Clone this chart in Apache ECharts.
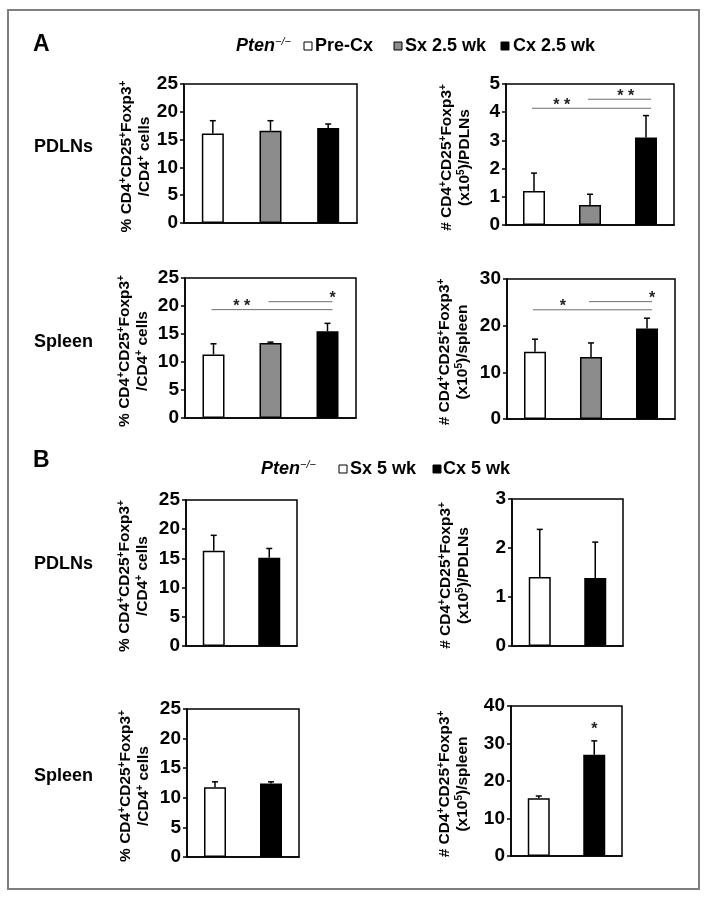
<!DOCTYPE html>
<html><head><meta charset="utf-8">
<script src="https://cdn.jsdelivr.net/npm/echarts@6/dist/echarts.min.js"></script>
<style>html,body{margin:0;padding:0;background:#fff}#c{width:710px;height:900px}</style>
</head><body><div id="c"></div>
<script>
// ---------- data ----------
const groupsA = ['Pre-Cx', 'Sx 2.5 wk', 'Cx 2.5 wk'];
const groupsB = ['Sx 5 wk', 'Cx 5 wk'];
const colorsA = ['#ffffff', '#8c8c8c', '#000000'];
const colorsB = ['#ffffff', '#000000'];
const genotype = 'Pten';
const genotypeSup = '−/−';
const rowLabels = ['PDLNs', 'Spleen', 'PDLNs', 'Spleen'];
const panelLetters = ['A', 'B'];

const aPdlnPct = [16.1, 16.6, 17.1];
const aPdlnPctErr = [2.3, 1.8, 0.7];
const aPdlnNum = [1.21, 0.71, 3.1];
const aPdlnNumErr = [0.63, 0.38, 0.78];
const aSplPct = [11.35, 13.4, 15.5];
const aSplPctErr = [1.9, 0.15, 1.4];
const aSplNum = [14.4, 13.3, 19.4];
const aSplNumErr = [2.7, 3.0, 2.2];
const bPdlnPct = [16.3, 15.1];
const bPdlnPctErr = [2.65, 1.6];
const bPdlnNum = [1.41, 1.39];
const bPdlnNumErr = [0.97, 0.73];
const bSplPct = [11.8, 12.4];
const bSplPctErr = [0.9, 0.3];
const bSplNum = [15.4, 27.0];
const bSplNumErr = [0.6, 3.7];

// significance annotations: from, to (category index), y value, text, label position fraction
const aPdlnNumSig = [{from:0, to:2, y:4.14, text:'* *', t:0.25}, {from:1, to:2, y:4.46, text:'* *', t:0.6}];
const aSplPctSig = [{from:0, to:2, y:19.35, text:'* *', t:0.25}, {from:1, to:2, y:20.77, text:'*', t:1}];
const aSplNumSig = [{from:0, to:2, y:23.4, text:'*', t:0.25}, {from:1, to:2, y:25.15, text:'*', t:1}];
const bSplNumSig = [{from:1, to:1, y:32.8, text:'*', t:0}];

const pctTitle = '{a|% CD4}{s|+}{a|CD25}{s|+}{a|Foxp3}{s|+}\n{a|/CD4}{s|+}{a| cells}';
const numPdlnTitle = '{a|# CD4}{s|+}{a|CD25}{s|+}{a|Foxp3}{s|+}\n{a|(x10}{s|5}{a|)/PDLNs}';
const numSplTitle = '{a|# CD4}{s|+}{a|CD25}{s|+}{a|Foxp3}{s|+}\n{a|(x10}{s|5}{a|)/spleen}';

// ---------- layout ----------
const FONT = '"Liberation Sans", Arial, Helvetica, sans-serif';
const panels = [
  {grid:{left:184, top:84, width:173, height:139}, cats:groupsA, colors:colorsA, vals:aPdlnPct, errs:aPdlnPctErr, max:25, interval:5, title:pctTitle, titleX:136, sig:[]},
  {grid:{left:506, top:84, width:168, height:141}, cats:groupsA, colors:colorsA, vals:aPdlnNum, errs:aPdlnNumErr, max:5, interval:1, title:numPdlnTitle, titleX:456, sig:aPdlnNumSig},
  {grid:{left:185, top:278, width:171, height:140}, cats:groupsA, colors:colorsA, vals:aSplPct, errs:aSplPctErr, max:25, interval:5, title:pctTitle, titleX:134, sig:aSplPctSig},
  {grid:{left:507, top:279, width:168, height:140}, cats:groupsA, colors:colorsA, vals:aSplNum, errs:aSplNumErr, max:30, interval:10, title:numSplTitle, titleX:454, sig:aSplNumSig},
  {grid:{left:186, top:500, width:111, height:146}, cats:groupsB, colors:colorsB, vals:bPdlnPct, errs:bPdlnPctErr, max:25, interval:5, title:pctTitle, titleX:134, sig:[]},
  {grid:{left:512, top:499, width:111, height:147}, cats:groupsB, colors:colorsB, vals:bPdlnNum, errs:bPdlnNumErr, max:3, interval:1, title:numPdlnTitle, titleX:455, sig:[]},
  {grid:{left:187, top:709, width:112, height:148}, cats:groupsB, colors:colorsB, vals:bSplPct, errs:bSplPctErr, max:25, interval:5, title:pctTitle, titleX:135, sig:[]},
  {grid:{left:511, top:706, width:111, height:150}, cats:groupsB, colors:colorsB, vals:bSplNum, errs:bSplNumErr, max:40, interval:10, title:numSplTitle, titleX:454, sig:bSplNumSig}
];

const grids = [], xAxes = [], yAxes = [], series = [], graphics = [];

panels.forEach((p, i) => {
  grids.push(Object.assign({show:true, borderColor:'#000', borderWidth:1.5, backgroundColor:'transparent'}, p.grid));
  xAxes.push({type:'category', gridIndex:i, data:p.cats, boundaryGap:true,
    axisLine:{show:true, lineStyle:{color:'#000', width:1.5}}, axisTick:{show:false}, axisLabel:{show:false}, splitLine:{show:false}});
  yAxes.push({type:'value', gridIndex:i, min:0, max:p.max, interval:p.interval,
    axisLine:{show:true, lineStyle:{color:'#000', width:1.5}},
    axisTick:{show:true, inside:false, length:4, lineStyle:{color:'#000', width:1.5}},
    axisLabel:{color:'#000', fontSize:19, fontWeight:'bold', fontFamily:FONT, margin:6},
    splitLine:{show:false}});
  series.push({type:'bar', xAxisIndex:i, yAxisIndex:i, barWidth:22, animation:false,
    itemStyle:{borderColor:'#000', borderWidth:1.5},
    data:p.vals.map((v, j) => ({value:v, itemStyle:{color:p.colors[j]}}))});
  series.push({type:'custom', xAxisIndex:i, yAxisIndex:i, animation:false, z:5,
    data:p.vals.map((v, j) => [j, v, p.errs[j]]),
    renderItem:(params, api) => {
      const j = api.value(0), v = api.value(1), e = api.value(2);
      const p0 = api.coord([j, v]), p1 = api.coord([j, v + e]);
      return {type:'group', children:[
        {type:'line', shape:{x1:p0[0], y1:p0[1], x2:p1[0], y2:p1[1]}, style:{stroke:'#000', lineWidth:1.5}},
        {type:'line', shape:{x1:p1[0]-3, y1:p1[1], x2:p1[0]+3, y2:p1[1]}, style:{stroke:'#000', lineWidth:1.5}}
      ]};
    }});
  if (p.sig.length) {
    series.push({type:'custom', xAxisIndex:i, yAxisIndex:i, animation:false, z:6, clip:false,
      data:p.sig.map(s => [s.from, s.to, s.y]),
      renderItem:(params, api) => {
        const s = p.sig[params.dataIndex];
        const pa = api.coord([s.from, s.y]), pb = api.coord([s.to, s.y]);
        const children = [];
        let x1 = pa[0], x2 = pb[0];
        if (s.from !== s.to) {
          x1 = pa[0] - 2; x2 = pb[0] + 5;
          children.push({type:'line', shape:{x1:x1, y1:pa[1], x2:x2, y2:pa[1]}, style:{stroke:'#6e6e6e', lineWidth:1}});
        }
        const lx = x1 + s.t * (x2 - x1);
        children.push({type:'text', x:lx, y:pa[1] - 3, style:{text:s.text, fill:'#222', fontSize:16, fontFamily:FONT, fontWeight:'bold', align:'center', verticalAlign:'middle'}});
        return {type:'group', children:children};
      }});
  }
  // rotated y-axis title
  graphics.push({type:'text', x:p.titleX, y:p.grid.top + p.grid.height / 2 + 3, rotation:Math.PI / 2,
    style:{text:p.title, align:'center', verticalAlign:'middle', fill:'#000',
      rich:{
        a:{fontSize:15.5, fontWeight:'bold', fontFamily:FONT, lineHeight:18, fill:'#000'},
        s:{fontSize:10, fontWeight:'bold', fontFamily:FONT, lineHeight:18, verticalAlign:'top', fill:'#000'}
      }}});
});

// outer frame
graphics.push({type:'rect', shape:{x:8, y:10, width:691, height:879}, style:{fill:'none', stroke:'#7f7f7f', lineWidth:2}, z:-1});

// panel letters
graphics.push({type:'text', x:33, y:45, style:{text:panelLetters[0], fontSize:23, fontWeight:'bold', fontFamily:FONT, fill:'#000', verticalAlign:'middle'}});
graphics.push({type:'text', x:33, y:461, style:{text:panelLetters[1], fontSize:23, fontWeight:'bold', fontFamily:FONT, fill:'#000', verticalAlign:'middle'}});

// row labels
const rowY = [147, 342, 564, 776];
rowLabels.forEach((r, k) => {
  graphics.push({type:'text', x:34, y:rowY[k], style:{text:r, fontSize:18, fontWeight:'bold', fontFamily:FONT, fill:'#000', verticalAlign:'middle'}});
});

// legends
function legend(y, x0, names, colors, boxXs, textXs) {
  graphics.push({type:'text', x:x0, y:y, style:{text:'{i|' + genotype + '}{s|' + genotypeSup + '}', verticalAlign:'middle',
    rich:{i:{fontSize:18, fontStyle:'italic', fontWeight:'bold', fontFamily:FONT, fill:'#000', lineHeight:20},
          s:{fontSize:11, fontStyle:'italic', fontFamily:FONT, fill:'#000', lineHeight:20, verticalAlign:'top'}}}});
  names.forEach((n, k) => {
    graphics.push({type:'rect', shape:{x:boxXs[k], y:y - 4, width:8, height:8}, style:{fill:colors[k], stroke:'#000', lineWidth:1}});
    graphics.push({type:'text', x:textXs[k], y:y, style:{text:n, fontSize:18, fontWeight:'bold', fontFamily:FONT, fill:'#000', verticalAlign:'middle'}});
  });
}
legend(46, 236, groupsA, colorsA, [304, 394, 501], [315, 405, 513]);
legend(469, 261, groupsB, colorsB, [339, 433], [350, 443]);

const chart = echarts.init(document.getElementById('c'), null, {renderer:'canvas'});
chart.setOption({animation:false, backgroundColor:'#fff', grid:grids, xAxis:xAxes, yAxis:yAxes, series:series, graphic:graphics});
</script>
</body></html>
